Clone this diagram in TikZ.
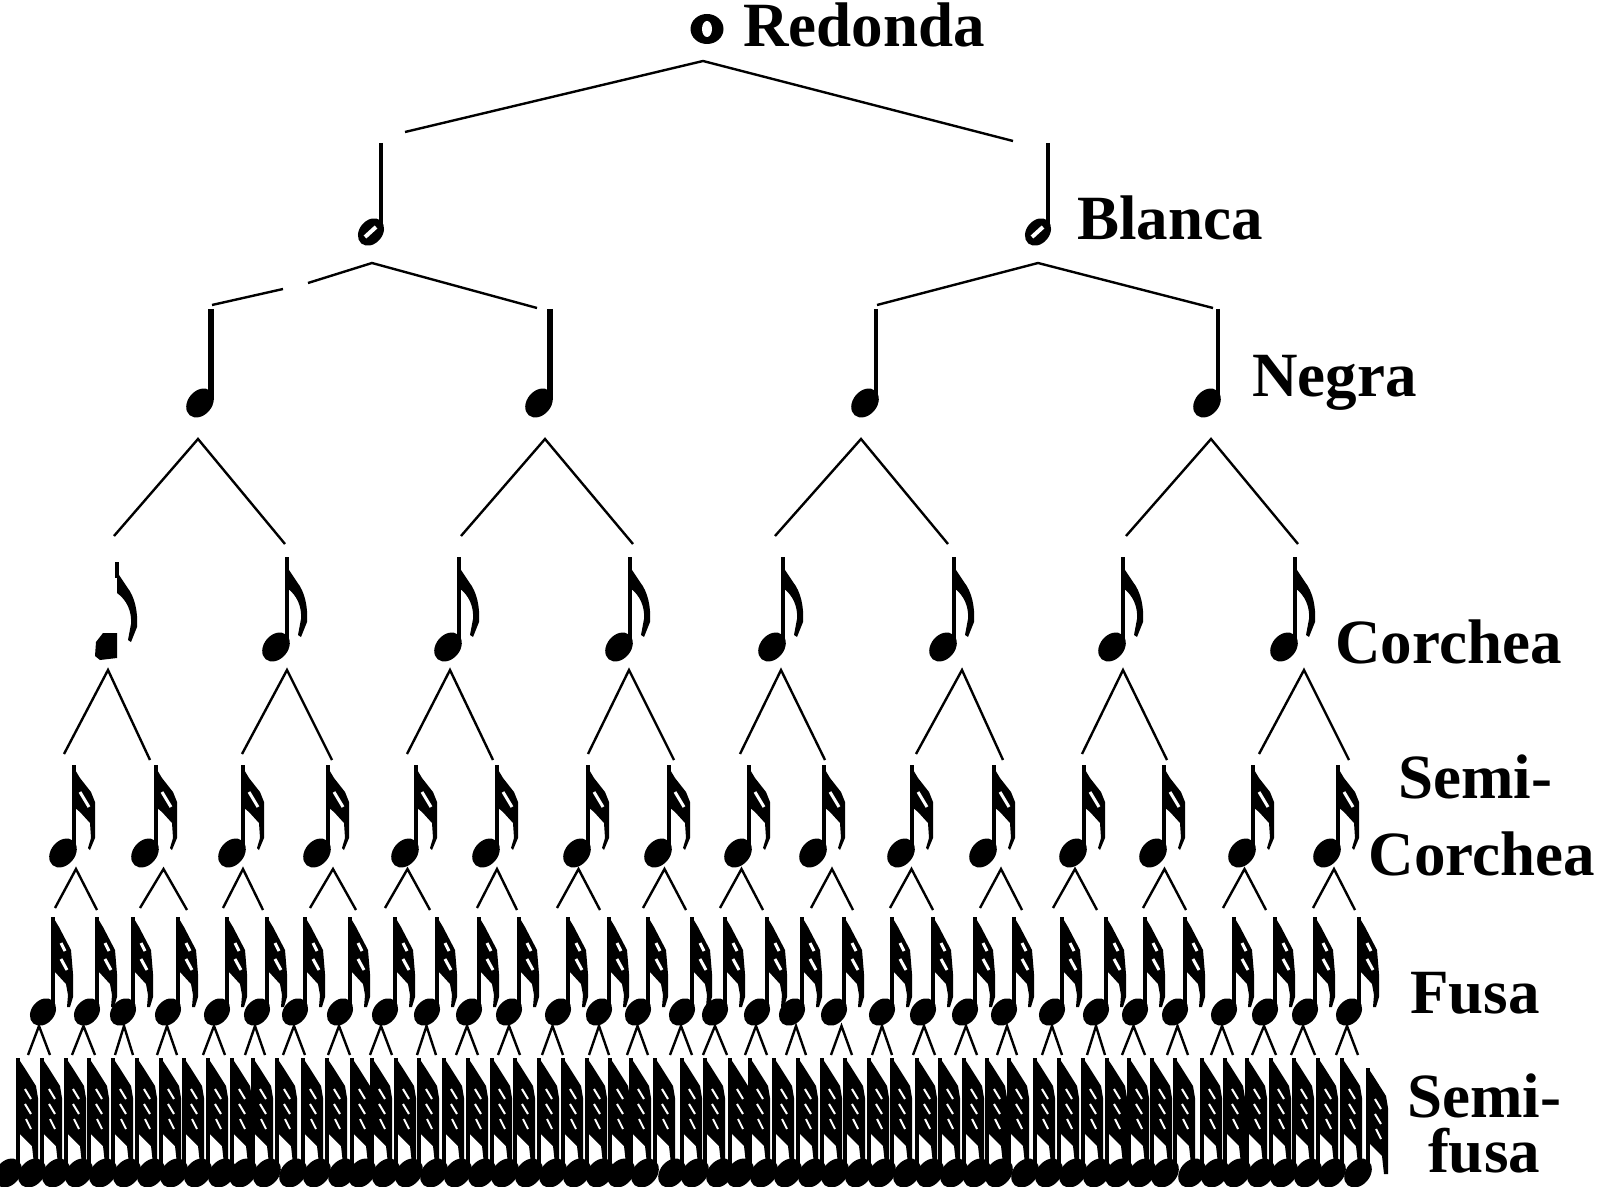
\documentclass[tikz,border=0pt]{standalone}
\usepackage{fontspec}
\setmainfont{Liberation Serif}
\usetikzlibrary{shapes.geometric}
\begin{document}
\begin{tikzpicture}[x=0.5pt,y=-0.5pt]
  \tikzstyle{head} = [ellipse, fill=black, inner sep=0pt, minimum width=16pt, minimum height=12pt, rotate=50]
  \tikzstyle{smallhead} = [head, minimum width=15pt, minimum height=11.5pt]
  \tikzstyle{stem} = [line width=2pt]
  \tikzstyle{thinstem} = [line width=1.6pt]
  \tikzstyle{branch} = [line width=1.2pt]
  \tikzstyle{slit} = [white, line width=1.5pt]
  \tikzstyle{notename} = [font=\fontsize{31.5}{38.5}\selectfont\bfseries, inner sep=0pt, anchor=base west, align=center]
  \tikzset{
    pics/flagcorchea/.style={code={
      \fill (0,10) -- (10,25) .. controls (18,35) and (21,50) .. (20,65) -- (14,80) -- (11,78) -- (14,62) .. controls (15,50) and (10,38) .. (0,31) -- cycle;
    }},
    pics/flagsemi/.style={code={
      \fill (0,3) -- (6,13) -- (17,27) -- (21,37) -- (21,73) -- (16,85) -- (14,83) -- (17,73) -- (16,58) -- (6,47) -- (0,42) -- cycle;
      \draw [slit] (6,27) -- (15,42);
    }},
    pics/flagfusa/.style={code={
      \fill (0,0) -- (6,10) -- (18,33) -- (20,57) -- (20,80) -- (17,90) -- (14,90) -- (15,78) -- (13,67) -- (2,55) -- (0,52) -- cycle;
      \draw [slit] (8,26) -- (12,34);
      \draw [slit] (8,42) -- (14,53);
    }},
    pics/flagsemifusa/.style={code={
      \fill (0,0) -- (6,9) -- (18,28) -- (20,40) -- (20,106) -- (16,106) -- (14,88) -- (2,76) -- (0,74) -- cycle;
      \draw [slit, line width=1pt] (7,31) -- (13,41);
      \draw [slit, line width=1pt] (7,46) -- (13,56);
      \draw [slit, line width=1pt] (8,61) -- (13,71);
    }}
  }
  \useasboundingbox (0,0) rectangle (1600,1187);

  % names of the notes
  \node (redonda) [notename] at (743,47) {Redonda};
  \node (blanca) [notename] at (1077,240) {Blanca};
  \node (negra) [notename] at (1252,396) {Negra};
  \node (corchea) [notename] at (1335,663) {Corchea};
  \node (semicorchea) [notename, anchor=base] at (1482,875) {Semi-\hspace*{7pt}\\Corchea};
  \node (fusa) [notename] at (1410,1013) {Fusa};
  \node (semifusa) [notename, anchor=base] at (1484,1172) {Semi-\\[-11pt]fusa};

  % redonda
  \node (whole) [ellipse, fill=black, inner sep=0pt, minimum width=16.5pt, minimum height=15pt] at (707,29) {};
  \node (wholehole) [ellipse, fill=white, inner sep=0pt, minimum width=5pt, minimum height=8pt] at (707,29) {};
  \coordinate (top1) at (703,61);
  \coordinate (top1l) at (405,132);
  \coordinate (top1r) at (1013,141);
  \draw [branch] (top1l) -- (top1) -- (top1r);

  % blancas
  \foreach \s [count=\i] in {381,1048} {
    \node (blanca\i) [smallhead] at (\s-10,232) {};
    \draw [slit, line width=2pt] (\s-16,237) -- (\s-5,227);
    \coordinate (blancatop\i) at (\s,143);
    \draw [thinstem] (blancatop\i) -- (\s,228);
  }
  \coordinate (gapa) at (283,289);
  \coordinate (gapb) at (308,283);
  \coordinate (top2) at (372,263);
  \coordinate (top2l) at (212,305);
  \coordinate (top2r) at (537,308);
  \draw [branch] (top2l) -- (gapa);
  \draw [branch] (gapb) -- (top2) -- (top2r);
  \coordinate (top3) at (1038,263);
  \coordinate (top3l) at (877,305);
  \coordinate (top3r) at (1213,308);
  \draw [branch] (top3l) -- (top3) -- (top3r);

  % negras
  \foreach \s/\w [count=\i] in {211/2.6pt,550/2.6pt,876/1.7pt,1218/1.7pt} {
    \node (negra\i) [head] at (\s-11,403) {};
    \coordinate (negratop\i) at (\s,309);
    \draw [line width=\w] (negratop\i) -- (\s,400);
  }
  \foreach \a/\l/\r [count=\i] in {198/114/285,545/461/633,861/775/948,1211/1126/1298} {
    \coordinate (v\i) at (\a,439);
    \coordinate (vl\i) at (\l,536);
    \coordinate (vr\i) at (\r,544);
    \draw [branch] (vl\i) -- (v\i) -- (vr\i);
  }

  % corcheas
  \fill (117,633) -- (103,633) -- (96,642) -- (95,656) -- (100,660) -- (117,658) -- cycle;
  \draw [thinstem] (117,562) -- (117,578);
  \pic at (117,562) {flagcorchea};
  \foreach \s [count=\i] in {287,459,630,783,954,1123,1295} {
    \node (corchea\i) [head] at (\s-11,647) {};
    \coordinate (corcheatop\i) at (\s,557);
    \draw [thinstem] (corcheatop\i) -- (\s,645);
    \pic at (corcheatop\i) {flagcorchea};
  }
  \foreach \a/\l/\r [count=\i] in {108/64/150,287/242/332,450/407/493,629/588/674,781/740/825,962/916/1003,1123/1082/1167,1304/1259/1349} {
    \coordinate (w\i) at (\a,670);
    \coordinate (wl\i) at (\l,754);
    \coordinate (wr\i) at (\r,760);
    \draw [branch] (wl\i) -- (w\i) -- (wr\i);
  }

  % semicorcheas
  \foreach \s [count=\i] in {74,156,243,328,416,497,588,669,749,824,912,994,1084,1164,1253,1338} {
    \node (semi\i) [head] at (\s-11,853) {};
    \coordinate (semitop\i) at (\s,765);
    \draw [stem] (semitop\i) -- (\s,852);
    \pic at (semitop\i) {flagsemi};
  }
  \foreach \l/\r [count=\i] in {55/97,140/187,223/263,310/356,385/430,477/517,557/600,643/686,720/763,811/853,890/933,980/1022,1053/1097,1143/1186,1223/1266,1313/1355} {
    \coordinate (x\i) at ({(\l+\r)/2},869);
    \coordinate (xl\i) at (\l,908);
    \coordinate (xr\i) at (\r,910);
    \draw [branch] (xl\i) -- (x\i) -- (xr\i);
  }

  % fusas
  \foreach \s [count=\i] in {53,97,133,178,227,267,305,350,395,437,479,519,568,609,648,692,725,767,802,844,892,933,975,1014,1062,1106,1145,1185,1234,1275,1315,1359} {
    \node (fusa\i) [smallhead] at (\s-10,1012) {};
    \coordinate (fusatop\i) at (\s,917);
    \draw [stem] (fusatop\i) -- (\s,1010);
    \pic at (fusatop\i) {flagfusa};
  }
  \foreach \l/\r [count=\i] in {28/50,72/95,115/133,157/177,203/225,245/265,283/305,328/350,370/392,417/436,456/478,498/520,542/563,589/609,627/648,670/692,703/727,745/767,786/806,831/852,872/892,913/935,955/977,997/1017,1042/1062,1087/1105,1122/1145,1167/1188,1211/1233,1252/1276,1291/1315,1336/1358} {
    \coordinate (y\i) at ({(\l+\r)/2},1026);
    \coordinate (yl\i) at (\l,1055);
    \coordinate (yr\i) at (\r,1055);
    \draw [branch] (yl\i) -- (y\i) -- (yr\i);
  }

  % semifusas
  \foreach \s/\t [count=\i] in {18/1058,42/1058,66/1058,89/1058,113/1058,137/1058,161/1058,184/1058,208/1058,232/1058,253/1058,277/1058,303/1058,327/1058,352/1058,372/1058,396/1058,419/1058,444/1058,468/1058,492/1058,515/1058,539/1058,563/1058,587/1058,610/1058,631/1058,655/1058,682/1058,705/1058,730/1058,750/1058,774/1058,798/1058,822/1058,845/1058,869/1058,892/1058,917/1058,940/1058,964/1058,987/1058,1009/1058,1035/1058,1059/1058,1083/1058,1107/1058,1129/1058,1152/1058,1175/1058,1202/1058,1225/1058,1247/1058,1271/1058,1294/1058,1318/1058,1342/1058,1368/1068} {
    \node (semifusa\i) [head] at (\s-10,1173) {};
    \coordinate (semifusatop\i) at (\s,\t);
    \draw [thinstem] (semifusatop\i) -- (\s,1170);
    \pic at (semifusatop\i) {flagsemifusa};
  }
\end{tikzpicture}
\end{document}
